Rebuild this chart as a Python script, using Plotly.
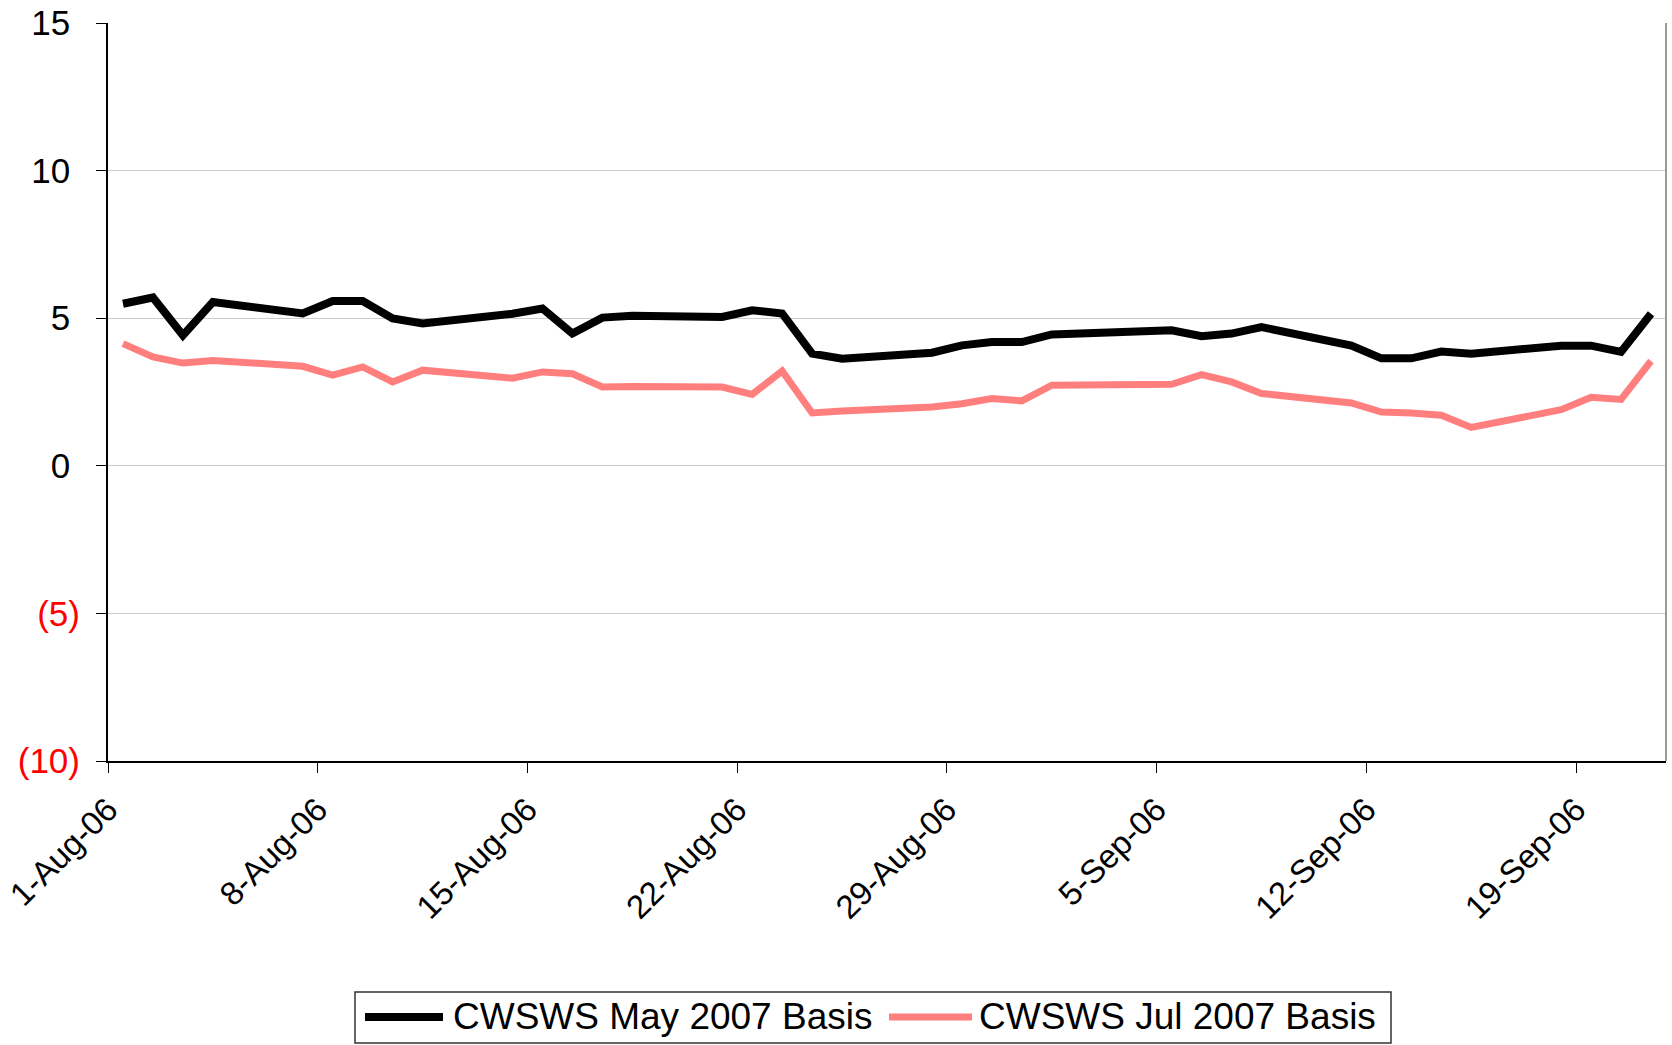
import pandas as pd
import plotly.graph_objects as go

dates = [
    "2006-08-01", "2006-08-02", "2006-08-03", "2006-08-04",
    "2006-08-07", "2006-08-08", "2006-08-09", "2006-08-10", "2006-08-11",
    "2006-08-14", "2006-08-15", "2006-08-16", "2006-08-17", "2006-08-18",
    "2006-08-21", "2006-08-22", "2006-08-23", "2006-08-24", "2006-08-25",
    "2006-08-28", "2006-08-29", "2006-08-30", "2006-08-31", "2006-09-01",
    "2006-09-05", "2006-09-06", "2006-09-07", "2006-09-08",
    "2006-09-11", "2006-09-12", "2006-09-13", "2006-09-14", "2006-09-15",
    "2006-09-18", "2006-09-19", "2006-09-20", "2006-09-21",
]

may_2007_basis = [
    5.49, 5.70, 4.42, 5.55,
    5.16, 5.58, 5.58, 4.99, 4.82,
    5.15, 5.33, 4.48, 5.02, 5.08,
    5.04, 5.27, 5.16, 3.80, 3.63,
    3.83, 4.08, 4.19, 4.19, 4.45,
    4.59, 4.39, 4.48, 4.70,
    4.07, 3.64, 3.64, 3.87, 3.80,
    4.07, 4.07, 3.86, 5.15,
]

jul_2007_basis = [
    4.14, 3.69, 3.48, 3.57,
    3.37, 3.07, 3.35, 2.84, 3.24,
    2.97, 3.18, 3.12, 2.67, 2.69,
    2.67, 2.42, 3.21, 1.79, 1.86,
    1.99, 2.10, 2.28, 2.20, 2.73,
    2.76, 3.09, 2.84, 2.45,
    2.13, 1.82, 1.79, 1.71, 1.30,
    1.90, 2.32, 2.25, 3.55,
]

series_names = ["CWSWS May 2007 Basis", "CWSWS Jul 2007 Basis"]

y_tickvals = [-10, -5, 0, 5, 10, 15]
y_ticktext = ["(10)", "(5)", "0", "5", "10", "15"]

x_tick_dates = ["2006-08-01", "2006-08-08", "2006-08-15", "2006-08-22",
                "2006-08-29", "2006-09-05", "2006-09-12", "2006-09-19"]
x_ticktext = ["1-Aug-06", "8-Aug-06", "15-Aug-06", "22-Aug-06",
              "29-Aug-06", "5-Sep-06", "12-Sep-06", "19-Sep-06"]

FONT = "Arial, Liberation Sans, sans-serif"
BLACK = "#000000"
PINK = "#FF7F7F"

# Excel date axis plots each day in the middle of its slot
x_vals = pd.to_datetime(dates) + pd.Timedelta(hours=12)

fig = go.Figure()
fig.add_trace(go.Scatter(x=x_vals, y=may_2007_basis, mode="lines",
                         name=series_names[0],
                         line=dict(color=BLACK, width=8)))
fig.add_trace(go.Scatter(x=x_vals, y=jul_2007_basis, mode="lines",
                         name=series_names[1],
                         line=dict(color=PINK, width=7)))

def fmt_tick(v, t):
    # accounting style: negatives red in parentheses, positives padded
    if v < 0:
        return f"<span style='color:#FF0000'>{t}</span>"
    return t + "\u00a0"

fig.update_layout(
    width=1672, height=1045,
    margin=dict(l=108, r=6, t=23, b=284),
    paper_bgcolor="white", plot_bgcolor="white",
    showlegend=False,
    font=dict(family=FONT, color="black"),
)

fig.update_xaxes(
    type="date",
    range=["2006-08-01", "2006-09-22"],
    tickvals=x_tick_dates,
    ticktext=x_ticktext,
    tickangle=-45,
    tickfont=dict(size=33, family=FONT, color="black"),
    ticks="outside", ticklen=10, tickcolor="black", tickwidth=1,
    showline=True, linecolor="black", linewidth=2,
    showgrid=False, zeroline=False,
    ticklabelstandoff=4,
    ticklabeloverflow="allow",
    automargin=False,
)

fig.update_yaxes(
    range=[-10, 15],
    tickvals=y_tickvals,
    ticktext=[fmt_tick(v, t) for v, t in zip(y_tickvals, y_ticktext)],
    tickfont=dict(size=35, family=FONT, color="black"),
    ticks="outside", ticklen=10, tickcolor="black", tickwidth=1,
    showline=True, linecolor="black", linewidth=2,
    showgrid=True, gridcolor="#CCCCCC", gridwidth=1,
    zeroline=False,
    ticklabelstandoff=9,
    ticklabeloverflow="allow",
    automargin=False,
)

# right border of the plot area
fig.add_shape(type="line", xref="paper", yref="paper", x0=1, x1=1, y0=0, y1=1,
              line=dict(color="#999999", width=2))

# custom legend box (positions in window pixels converted to paper units)
px_w, px_h = 1558.0, 738.0
def xp(px):
    return (px - 108) / px_w
def yp(py):
    return (761 - py) / px_h

fig.add_shape(type="rect", xref="paper", yref="paper",
              x0=xp(355), x1=xp(1391), y0=yp(1043), y1=yp(992),
              line=dict(color="#333333", width=1.5), fillcolor="white")
legend_items = [
    (series_names[0], BLACK, 8, 365, 443, 451),
    (series_names[1], PINK, 7, 889, 972, 977),
]
for name, col, w, lx0, lx1, tx in legend_items:
    fig.add_shape(type="line", xref="paper", yref="paper",
                  x0=xp(lx0), x1=xp(lx1), y0=yp(1017), y1=yp(1017),
                  line=dict(color=col, width=w))
    fig.add_annotation(xref="paper", yref="paper", x=xp(tx), y=yp(1016),
                       text=name, showarrow=False, xanchor="left",
                       yanchor="middle",
                       font=dict(size=37, family=FONT, color="black"))

fig.write_html(
    "out.html",
    config={"displayModeBar": False},
    post_script="document.body.style.margin='0';document.body.style.overflow='hidden';",
)
